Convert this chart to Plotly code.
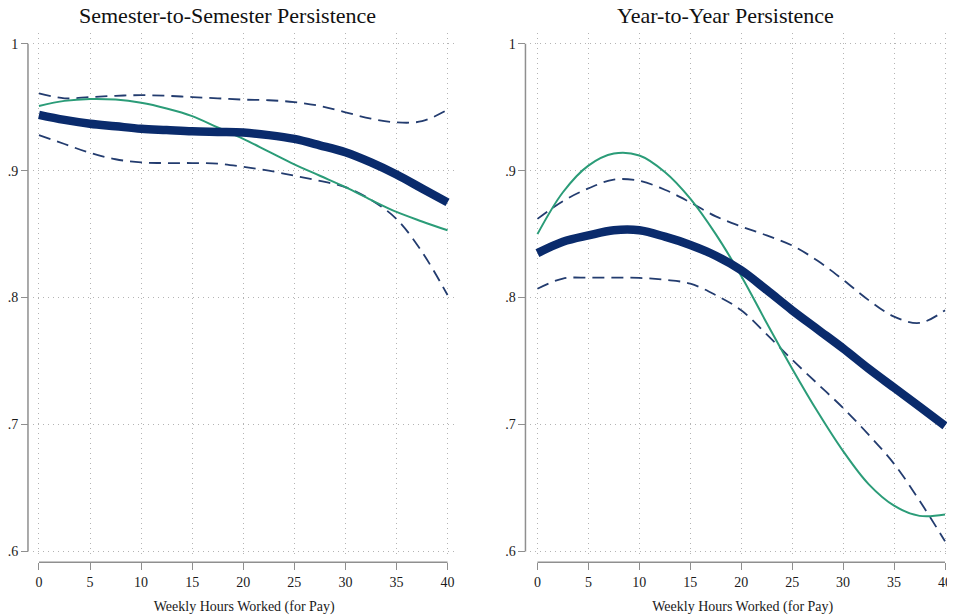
import plotly.graph_objects as go

# ---------------- data ----------------
hours = [0, 2.5, 5, 7.5, 10, 12.5, 15, 17.5, 20, 22.5, 25, 27.5, 30, 32.5, 35, 37.5, 40]

sem_fit = [0.944, 0.940, 0.937, 0.935, 0.933, 0.932, 0.931, 0.9305, 0.930, 0.928, 0.925,
           0.920, 0.9145, 0.9065, 0.897, 0.886, 0.875]
sem_hi = [0.961, 0.957, 0.958, 0.959, 0.9595, 0.959, 0.958, 0.957, 0.956, 0.9555, 0.954,
          0.951, 0.946, 0.941, 0.938, 0.939, 0.948]
sem_lo = [0.928, 0.921, 0.914, 0.909, 0.9065, 0.906, 0.906, 0.9055, 0.903, 0.900, 0.896,
          0.892, 0.887, 0.877, 0.862, 0.836, 0.802]
sem_raw = [0.951, 0.955, 0.9565, 0.956, 0.9535, 0.949, 0.943, 0.934, 0.925, 0.915, 0.905,
           0.896, 0.887, 0.877, 0.8675, 0.860, 0.853]

yr_fit = [0.835, 0.844, 0.849, 0.853, 0.853, 0.848, 0.8415, 0.833, 0.8215, 0.806, 0.790,
          0.775, 0.760, 0.744, 0.729, 0.714, 0.699]
yr_hi = [0.862, 0.876, 0.886, 0.893, 0.892, 0.885, 0.875, 0.864, 0.856, 0.849, 0.841,
         0.829, 0.814, 0.798, 0.785, 0.780, 0.790]
yr_lo = [0.807, 0.815, 0.8157, 0.8157, 0.8155, 0.814, 0.811, 0.802, 0.790, 0.771, 0.751,
         0.732, 0.713, 0.692, 0.669, 0.640, 0.608]
yr_raw = [0.850, 0.883, 0.904, 0.9135, 0.912, 0.899, 0.878, 0.850, 0.817, 0.780, 0.744,
          0.710, 0.679, 0.653, 0.636, 0.628, 0.629]

x_ticks = [0, 5, 10, 15, 20, 25, 30, 35, 40]
y_ticks = [0.6, 0.7, 0.8, 0.9, 1.0]
y_tick_text = [".6", ".7", ".8", ".9", "1"]
titles = ["Semester-to-Semester Persistence", "Year-to-Year Persistence"]
x_title = "Weekly Hours Worked (for Pay)"

# ---------------- style ----------------
OFF = 8                      # default page body margin of the html file
W, H = 955 - OFF, 615 - OFF  # figure size so that it fills the window
FONT = "Liberation Serif, Times New Roman, serif"
NAVY = "#0a2b6c"
DASH = "#233c6f"
GREEN = "#2b9c78"
AXIS = "#8f8f8f"
GRID = "#b4b4b4"


def px(v):
    """window pixel -> figure pixel"""
    return v - OFF


# pixel layout (window coordinates) of the two panels
panels = [
    dict(dom_x=(32, 455), x0=38, x40=447, yaxis_px=27),
    dict(dom_x=(530, 955), x0=537, x40=945, yaxis_px=525),
]
dom_top, dom_bot = 33, 561
y_hi_px, y_lo_px = 44, 555  # pixel rows of 1.0 and 0.6
xaxis_py = 566

fig = go.Figure()

series = [(sem_fit, sem_hi, sem_lo, sem_raw), (yr_fit, yr_hi, yr_lo, yr_raw)]
for i, (fit, hi, lo, raw) in enumerate(series):
    xa = "x" if i == 0 else "x2"
    ya = "y" if i == 0 else "y2"
    for vals in (hi, lo):
        fig.add_trace(go.Scatter(x=hours, y=vals, mode="lines", xaxis=xa, yaxis=ya,
                                 line=dict(color=DASH, width=1.8, dash="12px,7px", shape="spline"),
                                 showlegend=False, hoverinfo="skip"))
    fig.add_trace(go.Scatter(x=hours, y=raw, mode="lines", xaxis=xa, yaxis=ya,
                             line=dict(color=GREEN, width=2, shape="spline"),
                             showlegend=False, hoverinfo="skip"))
    fig.add_trace(go.Scatter(x=hours, y=fit, mode="lines", xaxis=xa, yaxis=ya,
                             line=dict(color=NAVY, width=8.5, shape="spline"),
                             showlegend=False, hoverinfo="skip"))

ky = (y_lo_px - y_hi_px) / (1.0 - 0.6)
y_range = [0.6 - (dom_bot - y_lo_px) / ky, 1.0 + (y_hi_px - dom_top) / ky]
y_dom = [(H - px(dom_bot)) / H, (H - px(dom_top)) / H]

shapes = []
annotations = []
for i, p in enumerate(panels):
    kx = (p["x40"] - p["x0"]) / 40.0
    x_range = [(p["dom_x"][0] - p["x0"]) / kx, (p["dom_x"][1] - p["x0"]) / kx]
    x_dom = [px(p["dom_x"][0]) / W, min(1.0, px(p["dom_x"][1]) / W)]
    if x_dom[1] >= 1.0:
        x_range[1] = x_range[0] + (W - px(p["dom_x"][0])) / kx
    sfx = "" if i == 0 else "2"
    fig.update_layout(**{
        "xaxis" + sfx: dict(
            domain=x_dom, range=x_range, anchor="free", position=(H - px(xaxis_py)) / H,
            tickvals=x_ticks, ticks="outside", ticklen=7, tickwidth=1.2, tickcolor=AXIS,
            showline=False, zeroline=False, showgrid=True, gridcolor=GRID,
            griddash="1px,4px", gridwidth=1,
            tickfont=dict(family=FONT, size=14, color="#1a1a1a"),
            title=dict(text=x_title, font=dict(family=FONT, size=14, color="#1a1a1a")),
            fixedrange=True,
        ),
        "yaxis" + sfx: dict(
            domain=y_dom, range=y_range, anchor="free", position=px(p["yaxis_px"]) / W,
            tickvals=y_ticks, ticktext=y_tick_text, ticks="outside", ticklen=7,
            tickwidth=1.2, tickcolor=AXIS, showline=False, zeroline=False,
            showgrid=True, gridcolor=GRID, griddash="1px,4px", gridwidth=1,
            tickfont=dict(family=FONT, size=14, color="#1a1a1a"), fixedrange=True,
        ),
    })
    # Stata-style axis lines spanning only the tick range
    shapes.append(dict(type="line", xref="paper", yref="paper",
                       x0=px(p["x0"]) / W, x1=px(p["x40"]) / W,
                       y0=(H - px(xaxis_py)) / H, y1=(H - px(xaxis_py)) / H,
                       line=dict(color=AXIS, width=1.5)))
    shapes.append(dict(type="line", xref="paper", yref="paper",
                       x0=px(p["yaxis_px"]) / W, x1=px(p["yaxis_px"]) / W,
                       y0=(H - px(y_lo_px)) / H, y1=(H - px(y_hi_px)) / H,
                       line=dict(color=AXIS, width=1.5)))

title_cx = [227, 725]
for i, t in enumerate(titles):
    annotations.append(dict(text=t, xref="paper", yref="paper", x=px(title_cx[i]) / W,
                            y=1 - px(16) / H, xanchor="center", yanchor="middle",
                            showarrow=False, font=dict(family=FONT, size=22, color="#111111")))

fig.update_layout(
    width=W, height=H, margin=dict(l=0, r=0, t=0, b=0),
    paper_bgcolor="white", plot_bgcolor="white",
    shapes=shapes, annotations=annotations, showlegend=False,
)

fig.write_html("out.html")
